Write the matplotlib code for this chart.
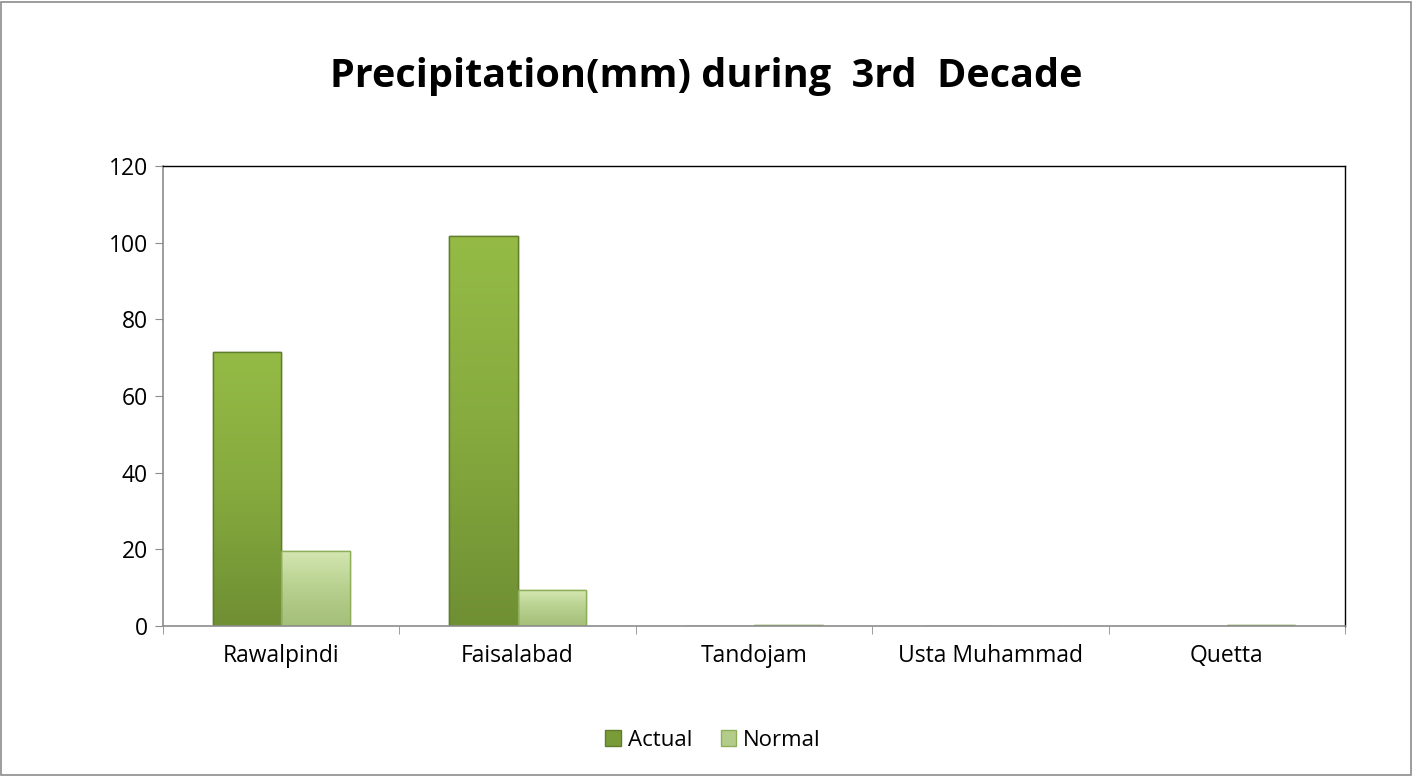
import matplotlib
matplotlib.use("Agg")
import matplotlib.pyplot as plt
import numpy as np
from matplotlib.patches import Rectangle
from matplotlib.colors import LinearSegmentedColormap

categories = ["Rawalpindi", "Faisalabad", "Tandojam", "Usta Muhammad", "Quetta"]
actual = [71.5, 101.8, 0.0, 0.0, 0.0]
normal = [19.5, 9.3, 0.3, 0.0, 0.3]

plt.rcParams['font.family'] = ['Open Sans', 'DejaVu Sans']

fig = plt.figure(figsize=(14.12, 7.76), dpi=100)
fig.patch.set_facecolor('white')
fig.add_artist(Rectangle((0.0007, 0.001), 0.9986, 0.997, transform=fig.transFigure,
                         fill=False, edgecolor='#8c8c8c', linewidth=1.2))

ax = fig.add_axes([163/1412, 1-626/776, (1345-163)/1412, (626-166)/776])

x = np.arange(len(categories))
w = 0.29
b1 = ax.bar(x - w/2, actual, width=w, color='#7a9c38', edgecolor='#5f7d2a', linewidth=1.0, label='Actual')
b2 = ax.bar(x + w/2, normal, width=w, color='#b3cc8a', edgecolor='#8fae5a', linewidth=1.0, label='Normal')

cm_a = LinearSegmentedColormap.from_list('a', ['#6f8f33', '#86aa3e', '#95bb46'])
cm_n = LinearSegmentedColormap.from_list('n', ['#a3bf78', '#b7d08e', '#d3e6b0'])
grad = np.linspace(0, 1, 256).reshape(-1, 1)
for bars, cm in ((b1, cm_a), (b2, cm_n)):
    for p in bars:
        h = p.get_height()
        if h <= 0:
            continue
        x0 = p.get_x(); ww = p.get_width()
        im = ax.imshow(grad, extent=[x0, x0 + ww, 0, h], origin='lower', cmap=cm,
                       aspect='auto', zorder=p.get_zorder() + 0.1, interpolation='bilinear')
        im.set_clip_path(p)
        ax.add_patch(Rectangle((x0, 0), ww, h, fill=False, edgecolor=p.get_edgecolor(),
                               linewidth=1.0, zorder=p.get_zorder() + 0.2))

ax.set_xlim(-0.5, len(categories) - 0.5)
ax.set_ylim(0, 120)
ax.set_aspect('auto')
ax.set_yticks(np.arange(0, 121, 20))
ax.set_xticks(x)
ax.set_xticklabels(categories, fontsize=16.5)
ax.set_xticks(np.arange(-0.5, len(categories), 1.0), minor=True)
ax.tick_params(axis='x', which='major', length=0, pad=13)
ax.tick_params(axis='x', which='minor', length=6, color='#8c8c8c', direction='out')
ax.tick_params(axis='y', length=6, color='#8c8c8c', direction='out', labelsize=16.5, pad=5)

for s in ['left', 'bottom']:
    ax.spines[s].set_color('#8c8c8c')
    ax.spines[s].set_linewidth(1.2)
for s in ['top', 'right']:
    ax.spines[s].set_color('#000000')
    ax.spines[s].set_linewidth(1.0)

fig.text(0.5, 1-77/776, "Precipitation(mm) during  3rd  Decade", ha='center', va='center',
         fontsize=28.5, fontweight='bold')

leg = fig.legend(loc='center', bbox_to_anchor=(713/1412, 1-740/776), ncol=2, frameon=False,
                 fontsize=16, handlelength=0.7, handleheight=0.7, handletextpad=0.3,
                 columnspacing=1.3)

fig.savefig("out.png", dpi=100)
